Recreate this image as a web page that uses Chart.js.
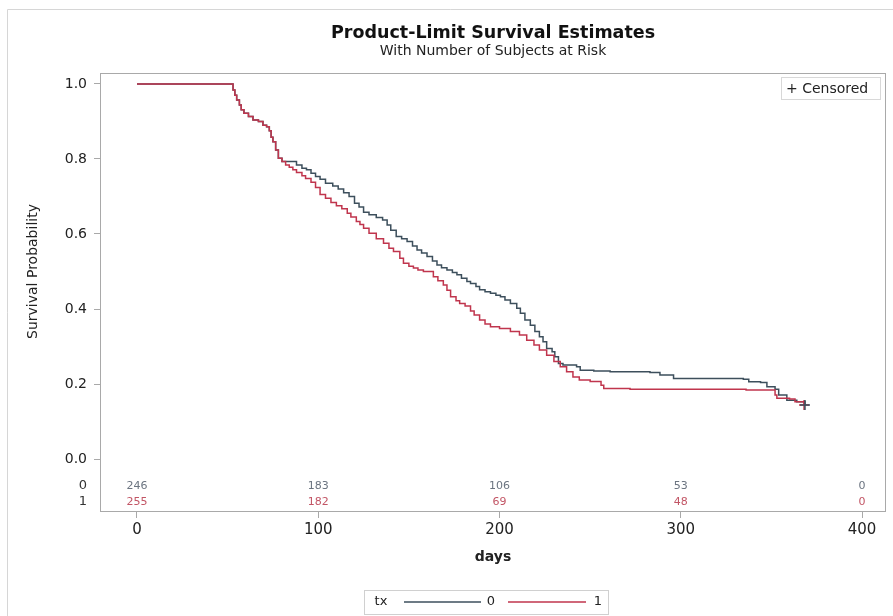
<!DOCTYPE html>
<html><head><meta charset="utf-8">
<script src="https://cdn.jsdelivr.net/npm/chart.js@4"></script>
<style>html,body{margin:0;padding:0;background:#fff;overflow:hidden}</style>
</head><body>
<canvas id="c" width="893" height="616"></canvas>
<script>
// ---- data ----
const days0 = [0, 53, 54, 55, 56.5, 57.5, 59, 61.5, 64, 67, 69.5, 71.5, 73, 74, 75, 76.5, 78, 80, 88, 91, 93.5, 96, 98.5, 101, 104, 108, 111, 114, 117, 120, 122.5, 125, 128, 132, 135.5, 138, 140, 143, 146, 149, 152, 154.5, 157, 160, 163, 165.5, 168, 171, 174, 176.5, 179, 182, 184, 187, 189, 192, 195, 198, 200.5, 203, 206, 209.5, 211.5, 214, 217, 219.5, 222, 224, 226, 229, 230.5, 232.5, 235, 242.5, 244.5, 252, 261, 283, 288.5, 296, 334.5, 337.5, 344, 347.5, 352, 354, 358.5, 364, 368.5];
const surv0 = [1, 0.984, 0.97, 0.957, 0.944, 0.931, 0.922, 0.913, 0.904, 0.9, 0.89, 0.886, 0.875, 0.858, 0.846, 0.824, 0.802, 0.793, 0.784, 0.775, 0.771, 0.762, 0.753, 0.746, 0.735, 0.728, 0.72, 0.71, 0.7, 0.682, 0.672, 0.658, 0.651, 0.644, 0.637, 0.624, 0.61, 0.593, 0.587, 0.58, 0.568, 0.557, 0.549, 0.54, 0.528, 0.517, 0.51, 0.504, 0.497, 0.491, 0.482, 0.473, 0.468, 0.46, 0.451, 0.446, 0.442, 0.437, 0.433, 0.424, 0.415, 0.402, 0.389, 0.371, 0.357, 0.34, 0.326, 0.313, 0.295, 0.286, 0.273, 0.255, 0.251, 0.246, 0.237, 0.235, 0.233, 0.231, 0.224, 0.215, 0.213, 0.206, 0.204, 0.193, 0.186, 0.171, 0.157, 0.153, 0.144];
const days1 = [0, 53, 54, 55, 56.5, 57.5, 59, 61.5, 64, 67, 69.5, 71.5, 73, 74, 75, 76.5, 78, 80, 82, 84, 86, 88, 91, 93, 96, 98.5, 101, 104, 107, 110, 113, 116, 118, 121, 123, 125, 128, 132, 136, 139, 141.5, 145, 147, 150, 152.5, 155, 158, 163.5, 166, 169, 171, 173, 176, 178, 181, 184, 186, 189, 192, 195, 200, 206, 211, 215, 219, 222, 226, 230, 233.5, 237, 240.5, 244, 250, 256, 257.5, 272, 336, 352, 353, 360, 363, 368];
const surv1 = [1, 0.984, 0.97, 0.957, 0.944, 0.931, 0.922, 0.913, 0.904, 0.9, 0.89, 0.886, 0.875, 0.858, 0.846, 0.824, 0.802, 0.793, 0.784, 0.778, 0.771, 0.764, 0.755, 0.748, 0.738, 0.724, 0.705, 0.695, 0.684, 0.675, 0.667, 0.655, 0.645, 0.633, 0.625, 0.615, 0.602, 0.587, 0.575, 0.562, 0.553, 0.535, 0.522, 0.514, 0.509, 0.504, 0.5, 0.486, 0.475, 0.464, 0.45, 0.433, 0.422, 0.415, 0.408, 0.395, 0.384, 0.371, 0.36, 0.353, 0.348, 0.34, 0.331, 0.317, 0.304, 0.291, 0.277, 0.26, 0.246, 0.233, 0.219, 0.211, 0.207, 0.197, 0.188, 0.186, 0.184, 0.171, 0.162, 0.16, 0.153, 0.144];
const censorDays0 = [368.5];
const censorSurv0 = [0.144];
const censorDays1 = [368];
const censorSurv1 = [0.144];
const riskTimes = [0, 100, 200, 300, 400];
const risk0 = [246, 183, 106, 53, 0];
const risk1 = [255, 182, 69, 48, 0];
const groupLabels = ['0', '1'];
const xTicks = [0, 100, 200, 300, 400];
const yTicks = [0, 0.2, 0.4, 0.6, 0.8, 1.0];

// ---- styles ----
const col0 = '#3d4f5c';
const col1 = '#c0354d';
const frameColor = '#a9a9a9';
const FONT = "'DejaVu Sans', sans-serif";
Chart.defaults.font.family = FONT;

const pts = (xs, ys) => xs.map((d, i) => ({x: d, y: ys[i]}));

const kmPlugin = {
  id: 'km',
  beforeDraw(chart) {
    const ctx = chart.ctx;
    ctx.save();
    ctx.fillStyle = '#fff';
    ctx.fillRect(0, 0, chart.width, chart.height);
    ctx.strokeStyle = '#d6d6d6';
    ctx.lineWidth = 1;
    ctx.beginPath();
    ctx.moveTo(7.5, chart.height); ctx.lineTo(7.5, 9.5); ctx.lineTo(chart.width, 9.5);
    ctx.stroke();
    ctx.restore();
  },
  beforeDatasetsDraw(chart) {
    const {ctx, chartArea: a} = chart;
    ctx.save();
    ctx.strokeStyle = frameColor;
    ctx.lineWidth = 1;
    ctx.strokeRect(Math.round(a.left) + 0.5, Math.round(a.top) + 0.5,
      Math.round(a.right - a.left) - 1, Math.round(a.bottom - a.top) - 1);
    ctx.restore();
  },
  afterDraw(chart) {
    const {ctx, chartArea: a} = chart;
    const xs = chart.scales.x, ys = chart.scales.y;
    ctx.save();
    // number at risk
    const rowY = [ys.getPixelForValue(-0.072), ys.getPixelForValue(-0.1147)];
    ctx.textAlign = 'center';
    ctx.textBaseline = 'middle';
    ctx.font = '11px ' + FONT;
    riskTimes.forEach((t, i) => {
      const x = xs.getPixelForValue(t);
      ctx.fillStyle = '#6b7480';
      ctx.fillText(String(risk0[i]), x, rowY[0]);
      ctx.fillStyle = '#c25565';
      ctx.fillText(String(risk1[i]), x, rowY[1]);
    });
    ctx.fillStyle = '#333';
    ctx.font = '13px ' + FONT;
    ctx.fillText(groupLabels[0], a.left - 17, rowY[0]);
    ctx.fillText(groupLabels[1], a.left - 17, rowY[1]);
    // y axis title centred on 0..1
    ctx.save();
    ctx.translate(33, ys.getPixelForValue(0.5));
    ctx.rotate(-Math.PI / 2);
    ctx.font = '14px ' + FONT;
    ctx.fillStyle = '#222';
    ctx.fillText('Survival Probability', 0, 0);
    ctx.restore();
    // censored legend (inset, top right)
    const bx = a.right - 105, by = a.top + 4, bw = 99, bh = 22;
    ctx.strokeStyle = '#d8d8d8';
    ctx.strokeRect(Math.round(bx) + 0.5, Math.round(by) + 0.5, bw, bh);
    ctx.textAlign = 'left';
    ctx.font = '14px ' + FONT;
    ctx.fillStyle = '#222';
    ctx.fillText('+ Censored', bx + 5, by + bh / 2 + 1);
    // bottom legend
    const ly = 602;
    ctx.strokeStyle = '#d0d0d0';
    ctx.strokeRect(364.5, 590.5, 244, 24);
    ctx.font = '13px ' + FONT;
    ctx.fillStyle = '#222';
    ctx.textAlign = 'center';
    ctx.fillText('tx', 381, ly);
    ctx.lineWidth = 1.5;
    ctx.strokeStyle = col0;
    ctx.beginPath(); ctx.moveTo(404, ly); ctx.lineTo(481, ly); ctx.stroke();
    ctx.fillText(groupLabels[0], 491, ly);
    ctx.strokeStyle = col1;
    ctx.beginPath(); ctx.moveTo(508, ly); ctx.lineTo(586, ly); ctx.stroke();
    ctx.fillText(groupLabels[1], 598, ly);
    ctx.restore();
  }
};

new Chart(document.getElementById('c'), {
  type: 'line',
  data: {
    datasets: [
      {label: '1', data: pts(days1, surv1), borderColor: col1, borderWidth: 1.5, stepped: 'before', pointRadius: 0, fill: false, order: 1},
      {label: '0', data: pts(days0, surv0), borderColor: col0, borderWidth: 1.5, stepped: 'before', pointRadius: 0, fill: false, order: 2},
      {label: 'Censored 1', type: 'scatter', data: pts(censorDays1, censorSurv1), pointStyle: 'cross', pointRadius: 5, borderColor: col1, borderWidth: 1.5, showLine: false, order: 0},
      {label: 'Censored 0', type: 'scatter', data: pts(censorDays0, censorSurv0), pointStyle: 'cross', pointRadius: 5, borderColor: col0, borderWidth: 1.5, showLine: false, order: -1}
    ]
  },
  options: {
    responsive: false,
    animation: false,
    devicePixelRatio: 1,
    layout: {padding: {left: 0, right: 7, top: 0, bottom: 0}},
    plugins: {
      legend: {display: false},
      tooltip: {enabled: false},
      title: {display: true, fullSize: false, text: 'Product-Limit Survival Estimates', color: '#111',
        font: {size: 17.5, weight: 'bold', lineHeight: 1.2}, padding: {top: 23, bottom: 0}},
      subtitle: {display: true, fullSize: false, text: 'With Number of Subjects at Risk', color: '#222',
        font: {size: 14, lineHeight: 1.0}, padding: {top: 0, bottom: 15}}
    },
    scales: {
      x: {
        type: 'linear', min: -20.4, max: 413.2,
        afterBuildTicks: s => { s.ticks = xTicks.map(v => ({value: v})); },
        afterFit: s => { s.height = 104; },
        grid: {display: true, drawOnChartArea: false, drawTicks: true, tickLength: 6, color: frameColor},
        border: {display: false},
        ticks: {padding: 3, color: '#222', font: {size: 15}, maxRotation: 0, callback: v => String(v)},
        title: {display: true, text: 'days', color: '#222', font: {size: 14, weight: 'bold', lineHeight: 1.2}, padding: {top: 0, bottom: 50.6}}
      },
      y: {
        type: 'linear', min: -0.1413, max: 1.0293,
        afterBuildTicks: s => { s.ticks = yTicks.map(v => ({value: v})); },
        afterFit: s => { s.width = 100; },
        grid: {display: true, drawOnChartArea: false, drawTicks: true, tickLength: 6, color: frameColor},
        border: {display: false},
        ticks: {padding: 7, color: '#222', font: {size: 14}, callback: v => Number(v).toFixed(1)}
      }
    }
  },
  plugins: [kmPlugin]
});
</script>
</body></html>
